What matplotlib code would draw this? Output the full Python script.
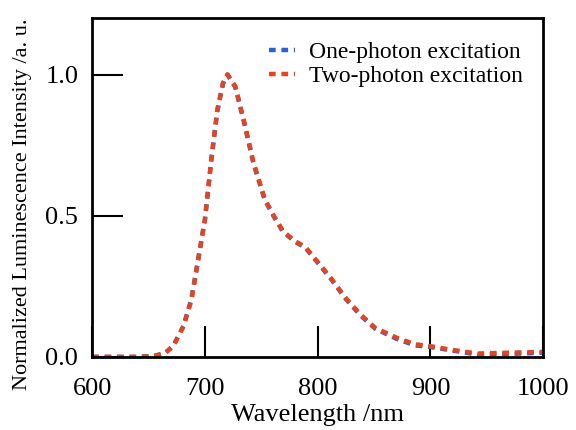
import matplotlib
matplotlib.use("Agg")
from matplotlib import pyplot as plt

# wavelength (nm) and normalized intensity
wavelength = [600, 620, 640, 655, 665, 672, 681, 688, 694, 700, 706, 711, 716, 720,
              727, 735, 743, 753, 761, 769, 779, 789, 800, 812, 825, 838, 851,
              870, 886, 900, 919, 942, 960, 980, 1000]
one_photon = [0.0, 0.0, 0.0, 0.003, 0.015, 0.04, 0.11, 0.205, 0.346, 0.487, 0.71, 0.87,
              0.967, 1.0, 0.955, 0.826, 0.686, 0.557, 0.498, 0.445, 0.41, 0.387,
              0.334, 0.275, 0.205, 0.147, 0.10, 0.064, 0.041, 0.035, 0.023, 0.008,
              0.01, 0.012, 0.015]
two_photon = [0.0, 0.0, 0.0, 0.003, 0.014, 0.038, 0.108, 0.20, 0.342, 0.485, 0.71, 0.875,
              0.97, 1.0, 0.958, 0.83, 0.69, 0.56, 0.50, 0.447, 0.412, 0.39,
              0.336, 0.278, 0.208, 0.15, 0.103, 0.068, 0.045, 0.038, 0.025, 0.012,
              0.014, 0.016, 0.018]

plt.rcParams["font.family"] = ["Liberation Serif", "DejaVu Serif"]

fig = plt.figure(figsize=(5.76, 4.30), dpi=100)
ax = fig.add_axes([0.16, 0.17, 0.783, 0.788])

ax.plot(wavelength, one_photon, "--", color="#2f5fd0", lw=3.2, dashes=(1.5, 1.3),
        label="One-photon excitation")
ax.plot(wavelength, two_photon, "--", color="#e2451f", lw=3.2, dashes=(1.5, 1.3),
        label="Two-photon excitation")

ax.set_xlim(600, 1000)
ax.set_ylim(0, 1.2)
ax.set_xticks([600, 700, 800, 900, 1000])
ax.set_yticks([0.0, 0.5, 1.0])
ax.set_yticklabels(["0.0", "0.5", "1.0"])
ax.tick_params(direction="in", length=22, width=1.5, labelsize=19)
ax.tick_params(axis="x", pad=15)
ax.tick_params(axis="y", pad=10)
for s in ax.spines.values():
    s.set_linewidth(2)

ax.set_xlabel("Wavelength /nm", fontsize=19)
ax.xaxis.set_label_coords(0.5, -0.14)
ax.set_ylabel("Normalized Luminescence Intensity /a. u.", fontsize=16)
ax.yaxis.set_label_coords(-0.133, 0.45)

ax.legend(loc="upper right", frameon=False, fontsize=17, handlelength=1.1,
          handletextpad=0.6, labelspacing=0.1, borderaxespad=0.6,
          bbox_to_anchor=(1.007, 1.0))

fig.savefig("out.png", dpi=100)
